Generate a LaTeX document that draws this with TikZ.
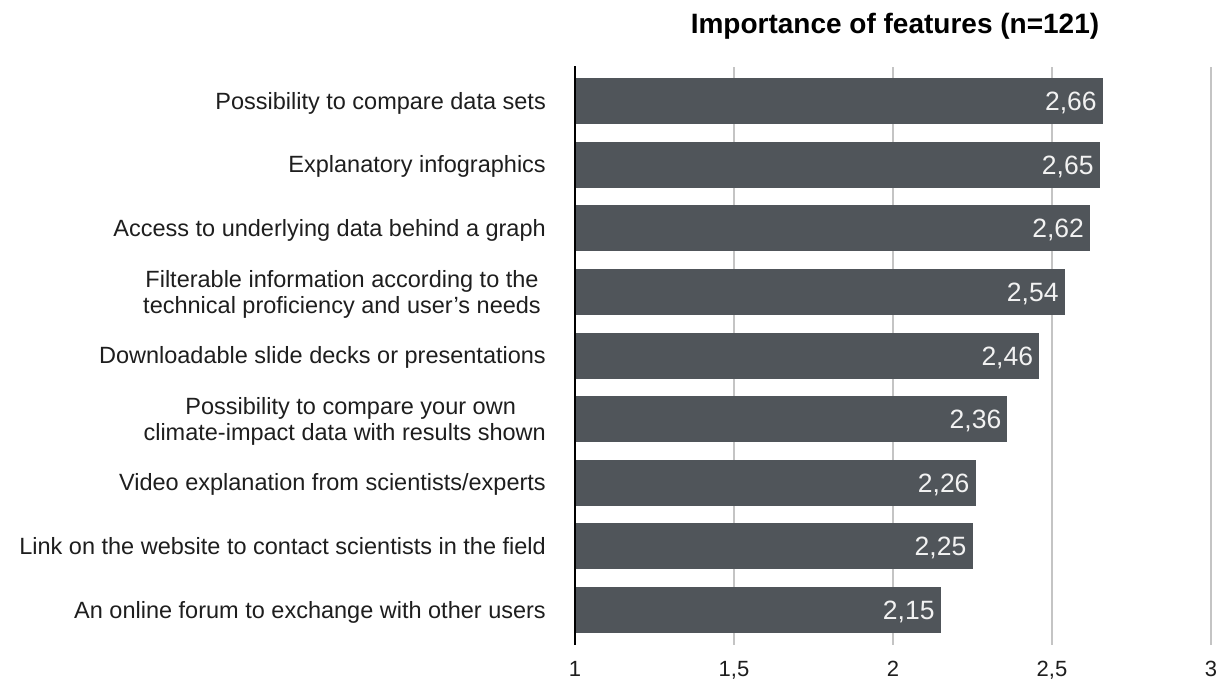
\documentclass[tikz,border=0pt]{standalone}
\usepackage{fontspec}
\setmainfont{Liberation Sans}
\definecolor{barcol}{HTML}{50555A}
\definecolor{valcol}{HTML}{F2F2F2}
\definecolor{gridcol}{HTML}{C4C4C4}
\definecolor{labcol}{HTML}{1E1E1E}
\begin{document}
\begin{tikzpicture}[x=1pt,y=-1pt,
  gridline/.style={draw=gridcol,line width=1.4pt},
  axisline/.style={draw=black,line width=1.5pt},
  bar/.style={fill=barcol},
  catlabel/.style={inner sep=0pt,text=labcol,font=\fontsize{23.5}{26}\selectfont},
  vallabel/.style={inner sep=0pt,anchor=base east,text=valcol,font=\fontsize{26.5}{28}\selectfont},
  ticklabel/.style={inner sep=0pt,anchor=base,text=labcol,font=\fontsize{22}{24}\selectfont},
  titlelabel/.style={inner sep=0pt,anchor=base,text=black,font=\fontsize{28}{30}\selectfont\bfseries}]
\useasboundingbox (0,0) rectangle (1227,680);
\fill[white] (0,0) rectangle (1227,680);
% title
\node[titlelabel] (title) at (895,33) {Importance of features (n=121)};
% grid
\foreach \k/\t in {1/{1,5},2/2,3/{2,5},4/3}{
  \draw[gridline] ({575+159*\k},67) -- ({575+159*\k},645);
}
\foreach \k/\t in {0/1,1/{1,5},2/2,3/{2,5},4/3}{
  \node[ticklabel] (tick\k) at ({575+159*\k},676) {\t};
}
% bars
\foreach \i/\v/\tv in {0/2.66/{2,66},1/2.65/{2,65},2/2.62/{2,62},3/2.54/{2,54},4/2.46/{2,46},5/2.36/{2,36},6/2.26/{2,26},7/2.25/{2,25},8/2.15/{2,15}}{
  \pgfmathsetmacro{\c}{101+63.625*\i}
  \pgfmathsetmacro{\xe}{575+(\v-1)*318}
  \fill[bar] (575,\c-23) rectangle (\xe,\c+23);
  \node[vallabel] (val\i) at (\xe-6,\c+9.5) {\tv};
}
\draw[axisline] (575,66) -- (575,645);
% category labels
\node[catlabel,anchor=base east] (lab0) at (546,109) {Possibility to compare data sets};
\node[catlabel,anchor=base east] (lab1) at (546,172.6) {Explanatory infographics};
\node[catlabel,anchor=base east] (lab2) at (546,236.25) {Access to underlying data behind a graph};
\node[catlabel,anchor=north east,align=center] (lab3) at (541,270.5) {Filterable information according to the\\technical proficiency and user’s needs};
\node[catlabel,anchor=base east] (lab4) at (546,363.5) {Downloadable slide decks or presentations};
\node[catlabel,anchor=north east,align=center] (lab5) at (546,397.6) {\hspace*{12pt}Possibility to compare your own\\climate-impact data with results shown};
\node[catlabel,anchor=base east] (lab6) at (546,490.75) {Video explanation from scientists/experts};
\node[catlabel,anchor=base east] (lab7) at (546,554.4) {Link on the website to contact scientists in the field};
\node[catlabel,anchor=base east] (lab8) at (546,618) {An online forum to exchange with other users};
\end{tikzpicture}
\end{document}
